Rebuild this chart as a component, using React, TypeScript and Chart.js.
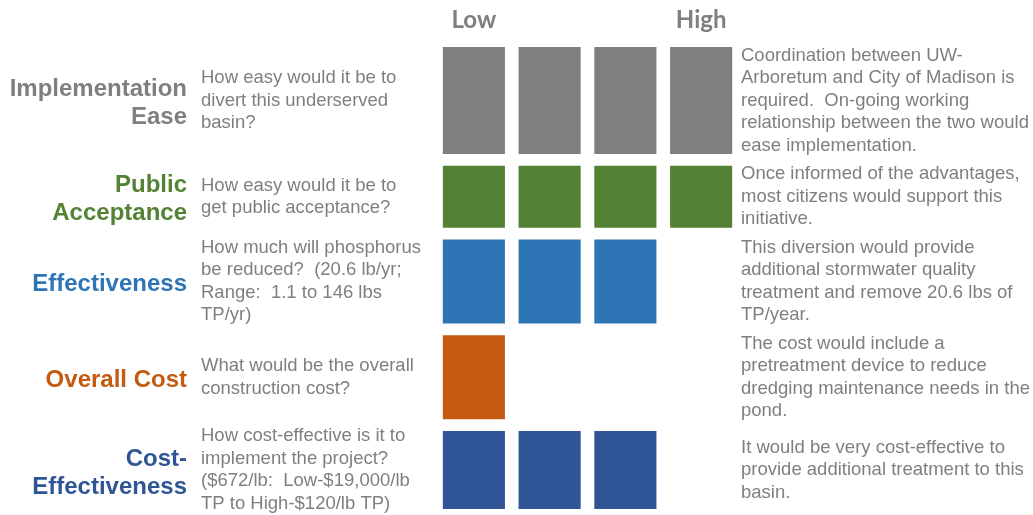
import React, { useEffect, useRef } from "react";
import { Chart, registerables } from "chart.js";

Chart.register(...registerables);

// ---- data ----
const levels = ["Low", "", "", "High"];
const criteria = [
  ["Implementation", "Ease"],
  ["Public", "Acceptance"],
  ["Effectiveness"],
  ["Overall Cost"],
  ["Cost-", "Effectiveness"],
];
const ratings = [4, 4, 3, 1, 3];
const questions = [
  ["How easy would it be to", "divert this underserved", "basin?"],
  ["How easy would it be to", "get public acceptance?"],
  ["How much will phosphorus", "be reduced?  (20.6 lb/yr;", "Range:  1.1 to 146 lbs", "TP/yr)"],
  ["What would be the overall", "construction cost?"],
  ["How cost-effective is it to", "implement the project?", "($672/lb:  Low-$19,000/lb", "TP to High-$120/lb TP)"],
];
const notes = [
  ["Coordination between UW-", "Arboretum and City of Madison is", "required.  On-going working", "relationship between the two would", "ease implementation."],
  ["Once informed of the advantages,", "most citizens would support this", "initiative."],
  ["This diversion would provide", "additional stormwater quality", "treatment and remove 20.6 lbs of", "TP/year."],
  ["The cost would include a", "pretreatment device to reduce", "dredging maintenance needs in the", "pond."],
  ["It would be very cost-effective to", "provide additional treatment to this", "basin."],
];

// ---- layout / style ----
const rowHeights = [107, 62, 84, 84, 78];
const rowGap = 11.75;
const palette = ["#7f7f7f", "#548235", "#2e75b6", "#c55a11", "#2f5597"];
const textGray = "#7f7f7f";

const bands: [number, number][] = [];
{
  let y = 0;
  rowHeights.forEach((h) => {
    bands.push([y, y + h]);
    y += h + rowGap;
  });
}
const yMax = bands[bands.length - 1][1];

const textPlugin = {
  id: "rowText",
  afterDraw(chart: any) {
    const ctx = chart.ctx;
    const ys = chart.scales.y;
    ctx.save();
    ctx.textBaseline = "middle";
    bands.forEach((b, i) => {
      const cy = ys.getPixelForValue((b[0] + b[1]) / 2);
      // criterion label
      ctx.font = "bold 24px 'Liberation Sans', Arial, sans-serif";
      ctx.fillStyle = palette[i];
      ctx.textAlign = "right";
      const lab = criteria[i];
      lab.forEach((t, k) => {
        ctx.fillText(t, 187, cy + 3 + (k - (lab.length - 1) / 2) * 28);
      });
      // question + note
      ctx.font = "18.5px 'Liberation Sans', Arial, sans-serif";
      ctx.fillStyle = textGray;
      ctx.textAlign = "left";
      const q = questions[i];
      q.forEach((t, k) => {
        ctx.fillText(t, 201, cy + (k - (q.length - 1) / 2) * 22.5);
      });
      const n = notes[i];
      n.forEach((t, k) => {
        ctx.fillText(t, 741, cy + (k - (n.length - 1) / 2) * 22.5);
      });
    });
    ctx.restore();
  },
};

export default function App() {
  const ref = useRef<HTMLCanvasElement>(null);
  useEffect(() => {
    if (!ref.current) return;
    const datasets = criteria.map((c, i) => ({
      label: c.join(" "),
      data: levels.map((_, j) => (j < ratings[i] ? bands[i] : null)),
      backgroundColor: palette[i],
      borderWidth: 0,
      borderSkipped: false,
      grouped: false,
      barPercentage: 0.82,
      categoryPercentage: 1,
    }));
    const chart = new Chart(ref.current, {
      type: "bar",
      data: { labels: levels, datasets: datasets as any },
      options: {
        responsive: false,
        animation: false,
        devicePixelRatio: 1,
        layout: { padding: { left: 436, right: 294, top: 0, bottom: 6 } },
        plugins: { legend: { display: false }, tooltip: { enabled: false } },
        scales: {
          x: {
            type: "category",
            position: "top",
            grid: { display: false, drawTicks: false },
            border: { display: false },
            ticks: {
              padding: 12,
              color: textGray,
              font: { family: "Lato, 'Open Sans', sans-serif", size: 24, weight: "bold" },
              maxRotation: 0,
              autoSkip: false,
            },
            afterFit: (s: any) => {
              s.height = 47;
            },
          },
          y: {
            type: "linear",
            display: false,
            reverse: true,
            min: 0,
            max: yMax,
          },
        },
      },
      plugins: [textPlugin],
    });
    return () => chart.destroy();
  }, []);
  return (
    <div style={{ position: "fixed", left: 0, top: 0, width: 1033, height: 515, background: "#fff" }}>
      <canvas ref={ref} width={1033} height={515} />
    </div>
  );
}
